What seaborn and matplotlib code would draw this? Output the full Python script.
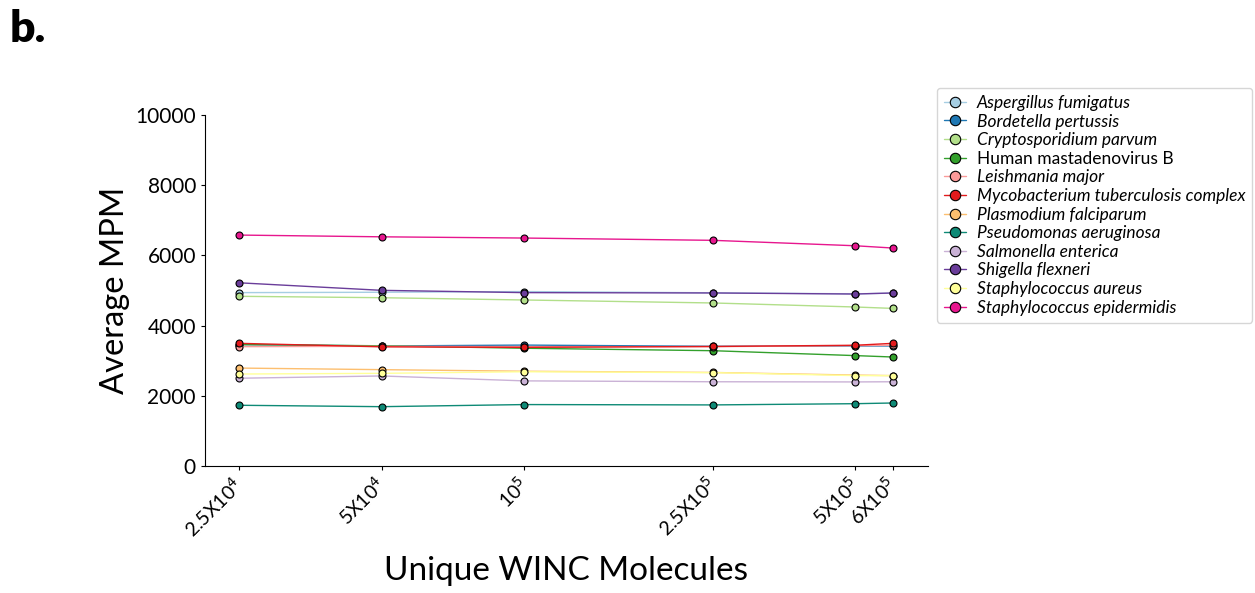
import matplotlib
matplotlib.use('Agg')
import matplotlib.pyplot as plt
import seaborn as sns
import pandas as pd

# x positions (unique WINC molecules) and tick labels
molecules = [25000, 50000, 100000, 250000, 500000, 600000]
tick_labels = [r'2.5X10$^{4}$', r'5X10$^{4}$', r'10$^{5}$', r'2.5X10$^{5}$', r'5X10$^{5}$', r'6X10$^{5}$']

species = [
    'Aspergillus fumigatus', 'Bordetella pertussis', 'Cryptosporidium parvum',
    'Human mastadenovirus B', 'Leishmania major', 'Mycobacterium tuberculosis complex',
    'Plasmodium falciparum', 'Pseudomonas aeruginosa', 'Salmonella enterica',
    'Shigella flexneri', 'Staphylococcus aureus', 'Staphylococcus epidermidis',
]
colors = ['#a6cee3', '#1f78b4', '#b2df8a', '#33a02c', '#fb9a99', '#e31a1c',
          '#fdbf6f', '#0e8a76', '#cab2d6', '#6a3d9a', '#ffff99', '#e7168e']

# average MPM per species
aspergillus = [4940, 4950, 4970, 4935, 4905, 4925]
bordetella = [3460, 3420, 3445, 3410, 3420, 3420]
cryptosporidium = [4835, 4795, 4730, 4645, 4530, 4490]
human_adeno = [3460, 3425, 3355, 3285, 3145, 3105]
leishmania = [3400, 3410, 3400, 3400, 3430, 3440]
mycobacterium = [3495, 3395, 3380, 3405, 3440, 3495]
plasmodium = [2790, 2745, 2700, 2665, 2590, 2575]
pseudomonas = [1730, 1690, 1750, 1740, 1775, 1795]
salmonella = [2500, 2565, 2425, 2400, 2395, 2400]
shigella = [5220, 5005, 4940, 4930, 4900, 4930]
staph_aureus = [2620, 2640, 2685, 2660, 2575, 2575]
staph_epi = [6580, 6530, 6495, 6430, 6275, 6210]

values = [aspergillus, bordetella, cryptosporidium, human_adeno, leishmania, mycobacterium,
          plasmodium, pseudomonas, salmonella, shigella, staph_aureus, staph_epi]

rows = []
for name, vals in zip(species, values):
    for m, v in zip(molecules, vals):
        rows.append({'molecules': m, 'mpm': v, 'species': name})
df = pd.DataFrame(rows)

sns.set_style('ticks', rc={'text.color': 'black', 'axes.labelcolor': 'black',
                           'xtick.color': 'black', 'ytick.color': 'black',
                           'axes.edgecolor': 'black'})
plt.rcParams['font.family'] = ['Lato', 'DejaVu Sans']

fig = plt.figure(figsize=(12.55, 5.93), dpi=100)
ax = fig.add_axes([0.1633, 0.2142, 0.5761, 0.5918])

sns.lineplot(data=df, x='molecules', y='mpm', hue='species', hue_order=species,
             palette=dict(zip(species, colors)), marker='o', markersize=5,
             markeredgecolor='black', markeredgewidth=0.8, linewidth=1, ax=ax)

ax.set_xscale('log')
ax.set_xlim(21200, 711000)
ax.set_ylim(0, 10000)
ax.set_xticks(molecules)
ax.set_xticklabels(tick_labels, rotation=45, ha='right', va='center',
                   rotation_mode='anchor', fontsize=14)
ax.minorticks_off()
ax.set_yticks([0, 2000, 4000, 6000, 8000, 10000])
ax.tick_params(axis='y', labelsize=15)
ax.tick_params(length=3)
ax.tick_params(axis='x', pad=8)
ax.set_xlabel('Unique WINC Molecules', fontsize=24, labelpad=11)
ax.set_ylabel('Average MPM', fontsize=23.5)
sns.despine(ax=ax)

leg = ax.legend(loc='upper left', bbox_to_anchor=(1.012, 1.077),
                prop={'style': 'italic', 'size': 12.5}, handlelength=1.3, markerscale=1.5,
                handletextpad=0.6, labelspacing=0.15, borderaxespad=0, frameon=True)
for txt in leg.get_texts():
    if txt.get_text().startswith('Human'):
        txt.set_fontstyle('normal')

fig.text(0.008, 0.93, 'b.', fontsize=32, fontweight='heavy')

fig.savefig('out.png', dpi=100)
